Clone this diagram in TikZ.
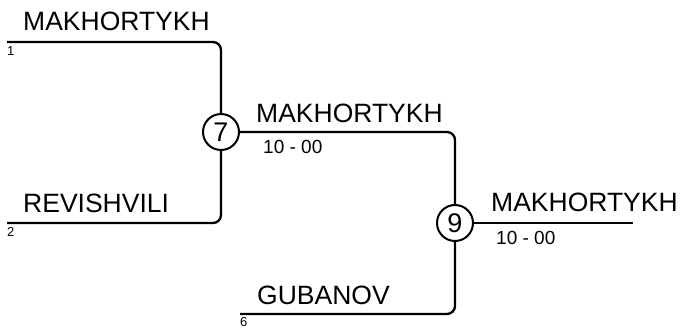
\documentclass[tikz,border=0pt]{standalone}
\usepackage{fontspec}
\setmainfont{Liberation Sans}
\usetikzlibrary{positioning}
\tikzset{
  bline/.style={line width=2.3pt, rounded corners=8pt},
  player/.style={anchor=base west, inner sep=0pt, font=\fontsize{26.5}{26.5}\selectfont},
  seed/.style={anchor=base west, inner sep=0pt, font=\fontsize{13}{13}\selectfont},
  score/.style={anchor=base west, inner sep=0pt, font=\fontsize{19}{19}\selectfont},
  match/.style={circle, draw, line width=2pt, minimum size=36pt, inner sep=0pt,
    font=\fontsize{27}{27}\selectfont}
}

\begin{document}
\begin{tikzpicture}[x=1pt, y=-1pt]
  \useasboundingbox (0,0) rectangle (680,329);

  % first round entries
  \coordinate (s1) at (7,42);
  \coordinate (s2) at (7,223);
  \coordinate (s6) at (240,314);
  \node[player] (p1) at (23,31) {MAKHORTYKH};
  \node[seed] (n1) at (7,56) {1};
  \node[player] (p2) at (23,212) {REVISHVILI};
  \node[seed] (n2) at (7,236) {2};
  \node[player] (p6) at (257,304) {GUBANOV};
  \node[seed] (n6) at (240,326.5) {6};

  % matches
  \node[match] (m7) at (221,132) {7};
  \node[match] (m9) at (455,223) {9};
  \coordinate (fin) at (633,223);

  % winners and scores
  \node[player] (w7) at (256,122) {MAKHORTYKH};
  \node[score] (r7) at (263,153) {10 - 00};
  \node[player] (w9) at (491,211) {MAKHORTYKH};
  \node[score] (r9) at (496,244) {10 - 00};

  % bracket lines
  \draw[bline] (s1) -| (m7);
  \draw[bline] (s2) -| (m7);
  \draw[bline] (m7) -| (m9);
  \draw[bline] (s6) -| (m9);
  \draw[bline] (m9) -- (fin);
\end{tikzpicture}
\end{document}
